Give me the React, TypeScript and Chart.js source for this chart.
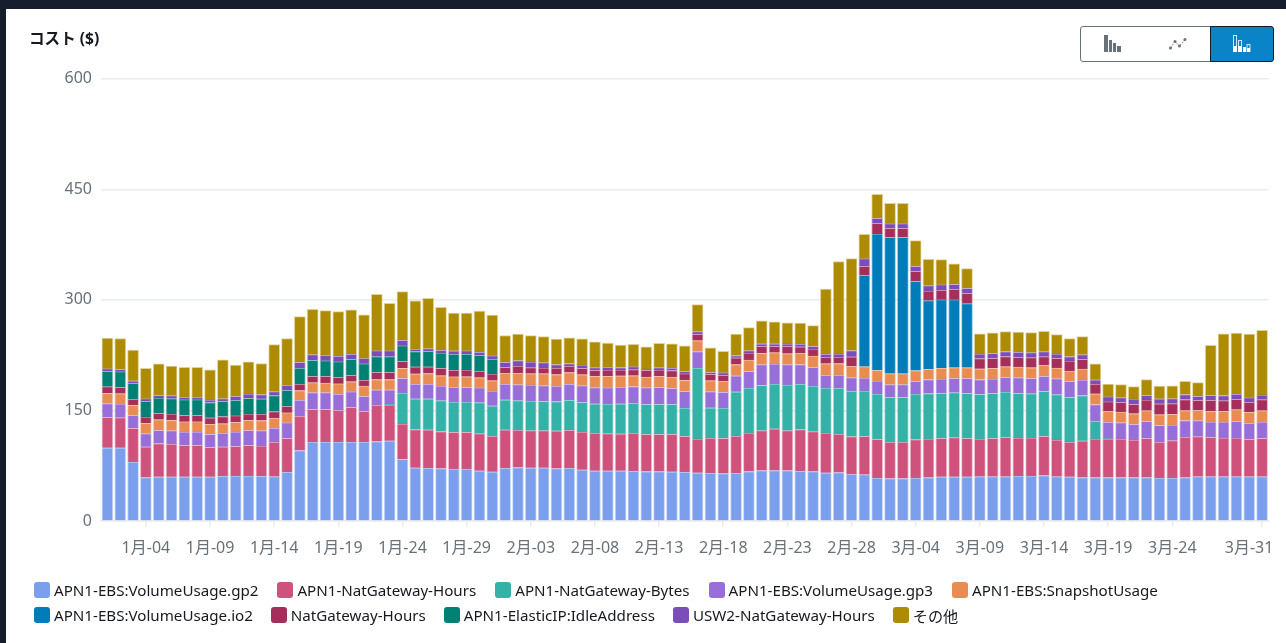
import React, { useEffect, useRef } from "react";
import { Chart, registerables } from "chart.js";

Chart.register(...registerables);

const FONT = '"Noto Sans","Noto Sans CJK JP",sans-serif';

const days: string[] = [
  "1月-01","1月-02","1月-03","1月-04","1月-05","1月-06","1月-07","1月-08","1月-09","1月-10","1月-11","1月-12","1月-13","1月-14","1月-15","1月-16","1月-17","1月-18","1月-19","1月-20","1月-21","1月-22","1月-23","1月-24","1月-25","1月-26","1月-27","1月-28","1月-29","1月-30","1月-31",
  "2月-01","2月-02","2月-03","2月-04","2月-05","2月-06","2月-07","2月-08","2月-09","2月-10","2月-11","2月-12","2月-13","2月-14","2月-15","2月-16","2月-17","2月-18","2月-19","2月-20","2月-21","2月-22","2月-23","2月-24","2月-25","2月-26","2月-27","2月-28","2月-29",
  "3月-01","3月-02","3月-03","3月-04","3月-05","3月-06","3月-07","3月-08","3月-09","3月-10","3月-11","3月-12","3月-13","3月-14","3月-15","3月-16","3月-17","3月-18","3月-19","3月-20","3月-21","3月-22","3月-23","3月-24","3月-25","3月-26","3月-27","3月-28","3月-29","3月-30","3月-31",
];

const shownTicks: string[] = ["1月-04","1月-09","1月-14","1月-19","1月-24","1月-29","2月-03","2月-08","2月-13","2月-18","2月-23","2月-28","3月-04","3月-09","3月-14","3月-19","3月-24","3月-31"];

const gp2 = [99.2,99.2,80.2,59,59.9,59.9,59.9,59.9,59.9,60.8,61.2,61.2,60.8,60.3,66.2,95.6,107.3,107.3,107.3,107.3,107.3,107.8,108.7,
  83.8,72.1,71.7,71.2,70.7,70.7,68,66.7,
  71.7,72.6,72.1,72.1,71.2,71.7,69.4,68,68,68,67.6,67.1,67.1,66.7,66.2,65.3,64.9,
  64.4,64.9,67.1,68.5,68.5,68.5,67.6,67.1,65.3,65.8,63.5,
  63,58.5,57.6,57.6,58.5,59,59.9,59.9,59.9,
  60.3,60.3,60.3,61.2,61.2,61.7,60.3,59.9,59,
  59,59,59,59,59,58.5,58.5,59,60.3,60.3,60.3,60.3,60.3,60.3];
const natHoursApn1 = [41.6,41.1,45.6,41.6,45.2,44.3,42.9,42.9,40.2,39.8,40.2,41.6,41.1,46.6,46,46.6,44.3,44.3,42.9,47,41.6,49.3,48.8,
  47.9,52,52,50.2,49.7,49.7,50.6,48.4,
  52,50.6,50.6,50.6,51.1,51.6,51.5,51.1,50.6,50.2,51.5,50.6,50.6,51,48.8,46.1,47.5,
  47.9,50.2,52.4,54.2,56.5,54.2,56.5,54.2,54.2,52,51.1,
  52,52.4,49.3,49.3,52,52.4,52.4,53.3,52.4,
  51.1,52,53.3,51.5,51.5,53.3,49.7,47,49.7,
  52.4,52.4,52.4,51,53.3,48.4,50.6,54.7,54.2,53.3,52.4,52.4,50.6,52];
const natBytes = [0,0,0,0,0,0,0,0,0,0,0,0,0,0,0,0,0,0,0,0,0,0,1,
  42,41.6,42,42,41.1,41.1,42,41.1,
  40.7,40.2,40.2,39.8,39.8,40.7,40.2,39.8,40.2,40.7,40.7,40.7,40.7,40.7,38.4,96.3,41.1,
  41.1,60.1,61,61.5,61,61.9,61.5,61.9,61,62.4,61.5,
  61.5,61.5,61,61,61.9,61.5,61,61,61,
  60.6,61,61.5,60.6,60.1,61,61.5,61,61.5,
  24,0.3,0,0,0,0,0,0,0,0.5,0,0,0,0];
const gp3 = [18.5,18.5,17.6,18,18,18.5,18,18,17.6,18.5,19.4,20.3,20.8,19,21.2,21.7,22.6,22.6,22.1,21.2,20.3,20.8,19.4,
  19.9,19.9,19.9,19.9,20.3,19.9,20.3,20.3,
  21.2,21.7,21.7,21.2,20.8,21.7,22.6,22.1,22.1,22.6,22.6,22.6,23,21.7,22.6,22.1,22.1,
  21.2,21.7,22.6,28,27.1,27.6,26.7,25.3,17.6,17.6,18.5,
  17.6,17.6,17.2,17.2,17.2,19,19.4,19.4,20.3,
  19.9,19.4,19.9,21.2,20.8,20.3,21.7,21.7,21.2,
  22.6,22.6,22.1,21.2,23,23,21.2,22.6,21.7,20.3,21.7,22.6,22.1,22.1];
const snapshot = [14,14,14,14,14.5,14,14,14,13.6,13.1,13.1,13.6,13.6,13.6,13.6,13.1,13.6,13.1,14,13.6,14,14,14,
  13.6,14,14.5,14,14,14.5,13.6,14,
  14.9,15.4,15.4,16.3,15.8,15.8,14.9,15.4,15.4,15.4,14.9,14.5,14.9,15.4,14.9,14.9,14.9,
  14.9,15.4,15.4,15.4,15.4,14.9,15.4,15.4,15.4,15.8,15.4,
  15.4,14.5,14.9,14.9,14.5,14,14.9,14.5,14.5,
  14.5,14.5,14.5,14.5,14.5,14.9,14.5,14,14.9,
  14.5,14.5,14.5,14.5,14.5,14.5,14.5,13.6,14,14.5,14.5,15.8,14.9,15.4];
const io2 = [0,0,0,0,0,0,0,0,0,0,0,0,0,0,0,0,0,0,0,0,0,0,0,
  0,0,0,0,0,0,0,0,
  0,0,0,0,0,0,0,0,0,0,0,0,0,0,0,0,0,
  0,0,0,0,0,0,0,0,0,0,0,
  123.8,184.9,184.9,184.9,121.1,93.1,92.7,92.2,86.8,
  0,0,0,0,0,0,0,0,0,
  0,0,0,0,0,0,0,0,0,0,0,0,0,0];
const natHours = [9,8.6,8.1,8.6,8.6,8.6,8.6,8.6,8.6,9.5,9,8.6,8.6,9,8.6,8.6,8.6,9,8.6,8.6,8.1,9.9,9.9,
  9.5,9.5,9,9.9,9,9,9,9,
  8.1,9.5,8.1,7.7,8.6,8.6,8.6,8.1,8.6,8.1,8.1,9,8.6,8.6,9,8.6,8.6,
  8.1,9,9.5,9.5,8.6,9.9,8.6,9.5,9,8.6,12.7,
  12.2,14.5,12.2,12.2,13.6,13.1,13.1,14,14,
  14,13.6,13.6,13.1,13.6,11.8,13.1,13.6,13.1,
  13.1,13.1,13.1,12.7,14.5,14.5,14.5,14.9,13.6,14.9,14.5,14,13.1,14.9];
const idleAddress = [20.8,21.2,21.2,21.2,20.8,20.8,21.2,21.2,20.8,20.8,20.8,21.2,20.8,21.7,21.7,21.7,21.7,21.2,21.2,21.7,22.1,21.2,21.2,
  21.2,20.8,21.2,20.8,21.7,21.7,21.2,20.3,
  0,0,0,0,0,0,0,0,0,0,0,0,0,0,0,0,0,
  0,0,0,0,0,0,0,0,0,0,0,
  0,0,0,0,0,0,0,0,0,
  0,0,0,0,0,0,0,0,0,
  0,0,0,0,0,0,0,0,0,0,0,0,0,0];
const usw2 = [3.6,3.2,3.6,3.6,3.6,4,3.6,3.6,3.6,3.6,5.4,5.9,5.9,5.4,7.2,8.1,7.7,7.7,7.7,7.2,7.2,8.1,8.1,
  7.2,3.2,3.6,4,4.5,4.5,4.5,4.5,
  6.8,7.7,7.7,7.2,5,3.6,4.5,3.6,4,3.2,4,1.8,3.2,3.2,3.2,3.6,2.7,
  3.6,3.2,3.2,3.2,3.2,3.2,3.6,3.6,4,4.5,8.6,
  10.4,6.8,6.3,6.3,6.8,7.2,7.2,6.8,6.8,
  6.3,6.8,6.8,7.2,6.8,6.8,5.9,5.9,6.3,
  5.9,6.8,6.3,7.2,6.3,6.8,6.8,6.8,5.4,6.8,6.8,7.2,6.3,6.3];
const others = [41.6,41.6,41.6,41.1,42.5,40.2,40.2,40.2,40.7,52.4,42.5,43.4,42,63.7,62.8,61.9,61.5,60.3,60.2,59.7,59.2,76.4,64.2,
  66,65.5,68.2,57.9,51.1,51.1,55.6,55.1,
  36.2,35.7,35.7,35.3,34.4,34.8,35.3,34.8,32.5,30.3,30.3,29.8,33,33,34.4,36.6,33,
  28.9,28.9,31.2,31.2,29.8,28.5,28.5,28,88.1,125.2,124.7,
  33,32.5,27.6,27.6,34.8,35.7,33.9,27.6,26.7,
  27.1,27.6,27.1,27.1,27.1,27.6,26.2,24.4,24.4,
  21.7,17.2,17.6,16.7,21.2,17.2,17.2,18,18.5,67.8,83.6,82.7,86.3,87.7];

const series = [
  { name: "APN1-EBS:VolumeUsage.gp2", color: "#7b9fec", values: gp2 },
  { name: "APN1-NatGateway-Hours", color: "#cf527c", values: natHoursApn1 },
  { name: "APN1-NatGateway-Bytes", color: "#34b2a7", values: natBytes },
  { name: "APN1-EBS:VolumeUsage.gp3", color: "#986fd9", values: gp3 },
  { name: "APN1-EBS:SnapshotUsage", color: "#e98c52", values: snapshot },
  { name: "APN1-EBS:VolumeUsage.io2", color: "#017cba", values: io2 },
  { name: "NatGateway-Hours", color: "#a52f5a", values: natHours },
  { name: "APN1-ElasticIP:IdleAddress", color: "#018074", values: idleAddress },
  { name: "USW2-NatGateway-Hours", color: "#7a4db8", values: usw2 },
  { name: "その他", color: "#ad8b03", values: others },
];

const axisGray = "#687078";
const gridGray = "#e9ebed";

const lastLabelShift = {
  id: "lastLabelShift",
  afterUpdate(chart: any) {
    const items = chart.scales.x.getLabelItems();
    const last = items[items.length - 1];
    if (last) last.options.translation[0] -= 13;
  },
};

function withAlpha(hex: string, a: number) {
  const v = parseInt(hex.slice(1), 16);
  return `rgba(${(v >> 16) & 255},${(v >> 8) & 255},${v & 255},${a})`;
}

export default function App() {
  const ref = useRef<HTMLCanvasElement>(null);
  useEffect(() => {
    const chart = new Chart(ref.current as HTMLCanvasElement, {
      type: "bar",
      plugins: [lastLabelShift],
      data: {
        labels: days,
        datasets: series.map((s) => ({
          label: s.name,
          data: s.values,
          backgroundColor: s.color,
          borderColor: withAlpha(s.color, 0.4),
          borderWidth: { left: 1, right: 1, top: 1, bottom: 0 },
          borderSkipped: false,
          barThickness: 11,
        })),
      },
      options: {
        animation: false,
        responsive: false,
        layout: { autoPadding: false, padding: { left: 0, right: 17.5, top: 78.7, bottom: 82 } },
        plugins: { legend: { display: false }, title: { display: false }, tooltip: { enabled: false } },
        scales: {
          x: {
            stacked: true,
            offset: true,
            afterBuildTicks: (axis: any) => {
              axis.ticks = axis.ticks.filter((t: any) => shownTicks.includes(days[t.value]));
            },
            afterFit: (axis: any) => {
              axis.height = 40;
              axis.paddingLeft = 0;
              axis.paddingRight = 0;
              axis._margins = { left: 0, right: 0, top: 0, bottom: 0 };
            },
            grid: { offset: false, drawOnChartArea: false, drawTicks: true, tickLength: 6, color: gridGray, lineWidth: 1.5 },
            border: { display: true, color: gridGray, width: 1.5 },
            ticks: {
              autoSkip: false, maxRotation: 0, minRotation: 0, padding: 12, color: axisGray,
              font: { family: FONT, size: 16 },
            },
          },
          y: {
            stacked: true,
            min: 0,
            max: 600,
            afterFit: (axis: any) => { axis.width = 101; },
            grid: { drawTicks: false, color: gridGray, lineWidth: 1.5 },
            border: { display: false },
            ticks: { stepSize: 150, padding: 9, color: axisGray, font: { family: FONT, size: 16 } },
          },
        },
      },
    } as any);
    return () => chart.destroy();
  }, []);

  const row1 = series.slice(0, 5);
  const row2 = series.slice(5);
  const legendRow = (items: typeof series, top: number, gap: number) => (
    <div style={{ position: "absolute", left: 34, top, display: "flex", gap, whiteSpace: "nowrap", height: 24, alignItems: "center" }}>
      {items.map((s) => (
        <div key={s.name} style={{ display: "flex", alignItems: "center", gap: 4 }}>
          <span style={{ width: 16, height: 16, borderRadius: 3, background: s.color, display: "inline-block" }} />
          <span style={{ fontSize: 15.15, color: "#16191f" }}>{s.name}</span>
        </div>
      ))}
    </div>
  );

  const btn = { position: "absolute" as const, top: 0, height: 36, boxSizing: "border-box" as const, display: "flex", alignItems: "center", justifyContent: "center" };

  return (
    <div style={{ position: "fixed", left: 0, top: 0, width: 1286, height: 643, overflow: "hidden", background: "#161d2d", fontFamily: FONT }}>
      <div style={{ position: "absolute", left: 6, top: 9, width: 1280, height: 634, background: "#ffffff" }} />
      <canvas ref={ref} width={1286} height={643} style={{ position: "absolute", left: 0, top: 0, display: "block" }} />
      <div style={{ position: "absolute", left: 29, top: 26, fontSize: 15.6, fontWeight: 700, color: "#16191f" }}>コスト ($)</div>
      <div style={{ position: "absolute", left: 1080, top: 26, width: 194, height: 36 }}>
        <div style={{ ...btn, left: 0, width: 66, border: "1px solid #687078", borderRadius: "3px 0 0 3px", background: "#fff" }}>
          <svg width="18" height="18" viewBox="0 0 18 18"><rect x="0" y="0" width="4" height="17" fill="#687078" /><rect x="5" y="5" width="3" height="12" fill="#687078" /><rect x="9" y="8" width="3" height="9" fill="#687078" /><rect x="13" y="11" width="4" height="6" fill="#687078" /></svg>
        </div>
        <div style={{ ...btn, left: 65, width: 66, borderTop: "1px solid #687078", borderBottom: "1px solid #687078", borderRight: "1px solid #687078", background: "#fff" }}>
          <svg width="18" height="12" viewBox="0 0 18 12"><polyline points="1.5,10 6,3.5 10.5,8 16,1.5" fill="none" stroke="#687078" strokeWidth="0.8" strokeDasharray="2 1" /><circle cx="1.5" cy="10" r="1.5" fill="#687078" /><circle cx="6" cy="3.5" r="1.5" fill="#687078" /><circle cx="10.5" cy="8" r="1.5" fill="#687078" /><circle cx="16" cy="1.5" r="1.5" fill="#687078" /></svg>
        </div>
        <div style={{ ...btn, left: 130, width: 64, border: "1px solid #16191f", borderRadius: "0 3px 3px 0", background: "#0a84c6" }}>
          <svg width="18" height="18" viewBox="0 0 18 18"><rect x="0.5" y="0.5" width="3" height="16" fill="none" stroke="#cfe6f5" /><rect x="0" y="11" width="4" height="6" fill="#fff" /><rect x="5.5" y="5.5" width="3" height="11" fill="none" stroke="#cfe6f5" /><rect x="5" y="11" width="4" height="6" fill="#fff" /><rect x="10" y="12" width="3" height="5" fill="#fff" /><rect x="14" y="9.5" width="3" height="7" fill="none" stroke="#cfe6f5" /><rect x="14" y="13" width="3" height="4" fill="#fff" /></svg>
        </div>
      </div>
      {legendRow(row1, 578, 19)}
      {legendRow(row2, 603, 18)}
    </div>
  );
}
